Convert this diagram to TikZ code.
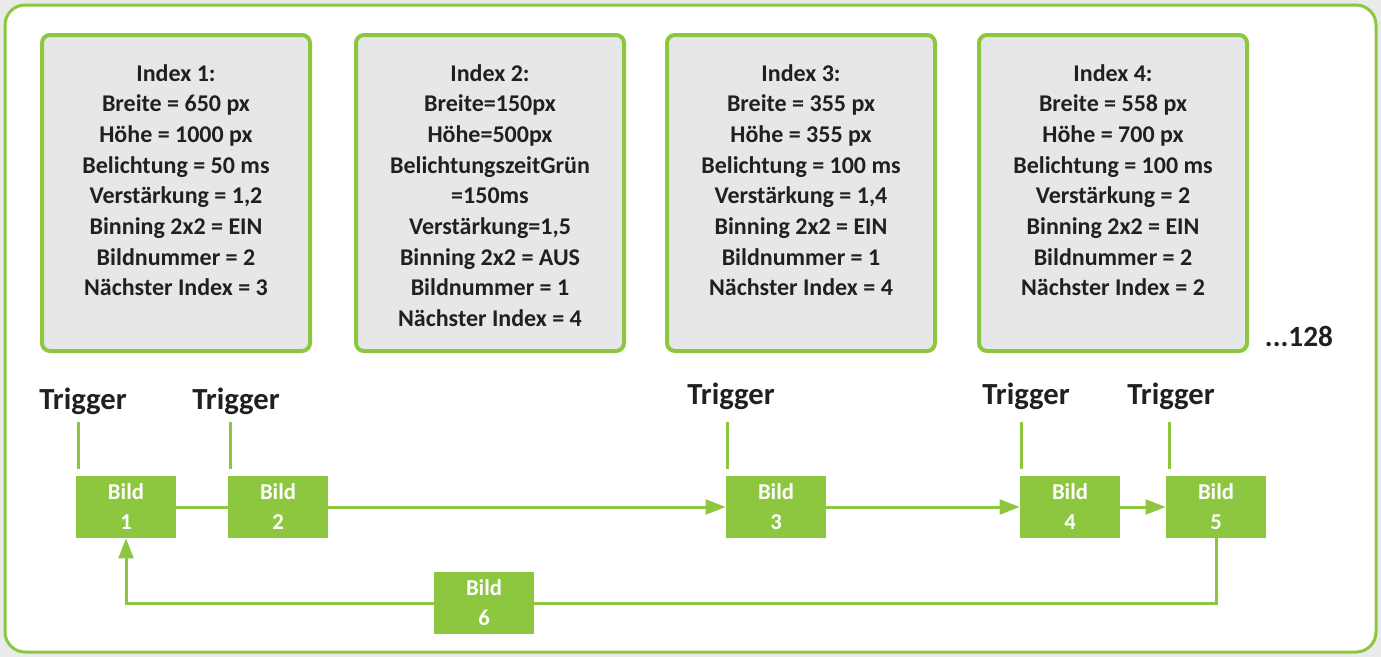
\documentclass[tikz,border=0pt]{standalone}
\usepackage{fontspec}
\setmainfont{Carlito}
\usetikzlibrary{arrows.meta}
\definecolor{lgreen}{HTML}{8DC63F}
\definecolor{boxgray}{HTML}{E6E7E8}
\definecolor{txt}{HTML}{231F20}
\definecolor{pagegray}{HTML}{E9EAEA}
\begin{document}
\begin{tikzpicture}[x=0.75pt,y=-0.75pt,
  idxbox/.style={draw=lgreen, line width=3pt, fill=boxgray, rounded corners=6pt,
    minimum width=201pt, minimum height=237pt, inner sep=0pt},
  idxtext/.style={anchor=north, align=center, inner sep=0pt, text=txt,
    font=\fontsize{18}{23}\selectfont\bfseries},
  bild/.style={fill=lgreen, text=white, minimum width=75pt, minimum height=46.5pt,
    inner sep=0pt, align=center, font=\fontsize{17}{22.5}\selectfont\bfseries},
  trig/.style={text=txt, inner sep=0pt, font=\fontsize{23}{26}\selectfont\bfseries},
  gline/.style={draw=lgreen, line width=2.25pt},
  garrow/.style={gline, -{Triangle[length=15pt, width=11pt]}}
]
\fill[pagegray] (0,0) rectangle (1381,657);
\useasboundingbox (0,0) rectangle (1381,657);
\draw[lgreen, line width=2.25pt, fill=white, rounded corners=15pt] (5,5) rectangle (1376,652);

% index boxes
\node[idxbox] (b1) at (176,193) {};
\node[idxbox] (b2) at (490,193) {};
\node[idxbox] (b3) at (801,193) {};
\node[idxbox] (b4) at (1113,193) {};

\node[idxtext] (t1) at (176,64) {Index 1:\\Breite = 650 px\\Höhe = 1000 px\\Belichtung = 50 ms\\Verstärkung = 1,2\\Binning 2x2 = EIN\\Bildnummer = 2\\Nächster Index = 3};
\node[idxtext] (t2) at (490,64) {Index 2:\\Breite=150px\\Höhe=500px\\BelichtungszeitGrün\\=150ms\\Verstärkung=1,5\\Binning 2x2 = AUS\\Bildnummer = 1\\Nächster Index = 4};
\node[idxtext] (t3) at (801,64) {Index 3:\\Breite = 355 px\\Höhe = 355 px\\Belichtung = 100 ms\\Verstärkung = 1,4\\Binning 2x2 = EIN\\Bildnummer = 1\\Nächster Index = 4};
\node[idxtext] (t4) at (1113,64) {Index 4:\\Breite = 558 px\\Höhe = 700 px\\Belichtung = 100 ms\\Verstärkung = 2\\Binning 2x2 = EIN\\Bildnummer = 2\\Nächster Index = 2};

\node[text=txt, inner sep=0pt, font=\fontsize{22}{26}\selectfont\bfseries] (more) at (1299,336) {...128};

% triggers
\node[trig] (tr1) at (83,401) {Trigger};
\node[trig] (tr2) at (236,401) {Trigger};
\node[trig] (tr3) at (731,396) {Trigger};
\node[trig] (tr4) at (1026,396) {Trigger};
\node[trig] (tr5) at (1171,396) {Trigger};

% images
\node[bild] (p1) at (126,507) {Bild\\1};
\node[bild] (p2) at (278,507) {Bild\\2};
\node[bild] (p3) at (776,507) {Bild\\3};
\node[bild] (p4) at (1070,507) {Bild\\4};
\node[bild] (p5) at (1216,507) {Bild\\5};
\node[bild] (p6) at (484,603) {Bild\\6};

% trigger lines
\coordinate (c1) at (78,422);
\coordinate (c2) at (230,422);
\coordinate (c3) at (727,422);
\coordinate (c4) at (1021,422);
\coordinate (c5) at (1169,422);
\foreach \i in {1,...,5} {\draw[lgreen, line width=2.25pt] (c\i) -- ++(0,47);}

% connectors
\draw[gline] (p1) -- (p2);
\draw[garrow] (p2) -- (p3);
\draw[garrow] (p3) -- (p4);
\draw[garrow] (p4) -- (p5);
\draw[gline] (p5.south) |- (p6.east);
\draw[garrow] (p6.west) -| (p1.south);
\end{tikzpicture}
\end{document}
